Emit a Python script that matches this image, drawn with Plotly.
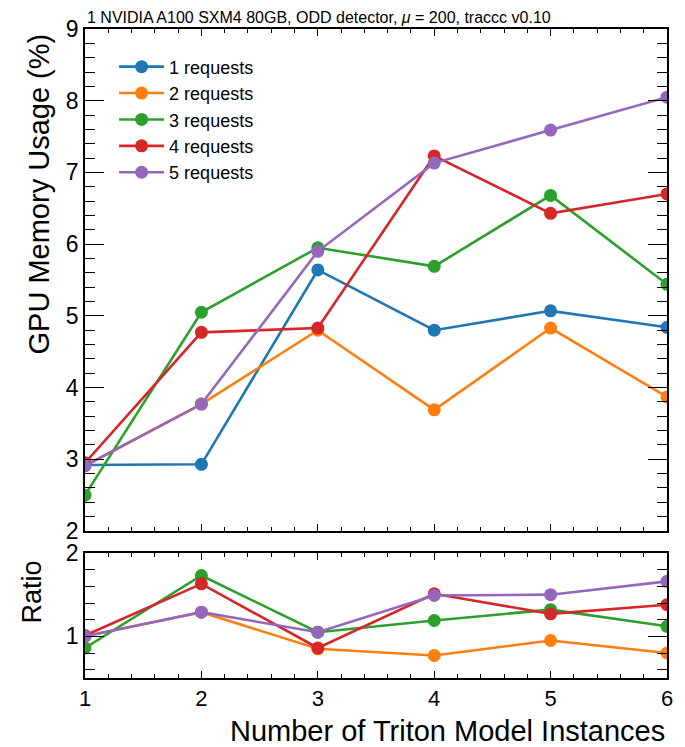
import plotly.graph_objects as go

instances = [1, 2, 3, 4, 5, 6]
labels = ["1 requests", "2 requests", "3 requests", "4 requests", "5 requests"]
colors = ["#1f77b4", "#ff7f0e", "#2ca02c", "#d62728", "#9467bd"]

mem_1req = [2.92, 2.93, 5.64, 4.80, 5.07, 4.84]
mem_2req = [2.91, 3.77, 4.80, 3.69, 4.83, 3.87]
mem_3req = [2.50, 5.05, 5.95, 5.69, 6.68, 5.44]
mem_4req = [2.95, 4.77, 4.83, 7.23, 6.43, 6.70]
mem_5req = [2.91, 3.77, 5.90, 7.13, 7.59, 8.05]

ratio_2req = [1.00, 1.29, 0.85, 0.77, 0.95, 0.80]
ratio_3req = [0.86, 1.73, 1.05, 1.19, 1.32, 1.12]
ratio_4req = [1.01, 1.63, 0.86, 1.51, 1.27, 1.38]
ratio_5req = [1.00, 1.29, 1.05, 1.49, 1.50, 1.66]

main_series = [mem_1req, mem_2req, mem_3req, mem_4req, mem_5req]
ratio_series = [None, ratio_2req, ratio_3req, ratio_4req, ratio_5req]

FONT = "Liberation Sans, Arial, sans-serif"

fig = go.Figure()
for lab, col, ys in zip(labels, colors, main_series):
    fig.add_trace(go.Scatter(
        x=instances, y=ys, mode="lines+markers", name=lab,
        line=dict(color=col, width=2.6),
        marker=dict(color=col, size=13),
        xaxis="x", yaxis="y", showlegend=True,
    ))
for lab, col, ys in zip(labels, colors, ratio_series):
    if ys is None:
        continue
    fig.add_trace(go.Scatter(
        x=instances, y=ys, mode="lines+markers", name=lab,
        line=dict(color=col, width=2.6),
        marker=dict(color=col, size=13),
        xaxis="x2", yaxis="y2", showlegend=False,
    ))

axis_common = dict(
    showline=True, linecolor="black", linewidth=1.6, mirror="allticks",
    ticks="inside", tickcolor="black", showgrid=False, zeroline=False,
)

fig.update_layout(
    width=685, height=747,
    margin=dict(l=85, r=16, t=29, b=69),
    paper_bgcolor="white", plot_bgcolor="white",
    font=dict(family=FONT, color="black"),
    xaxis=dict(
        **axis_common, domain=[0, 1], anchor="y", range=[1, 6],
        dtick=1, tick0=1, ticklen=7, tickwidth=1.2, showticklabels=False,
        minor=dict(dtick=0.2, ticklen=4, tickcolor="black", ticks="inside", tickwidth=1),
    ),
    yaxis=dict(
        **axis_common, domain=[0.2265, 1], anchor="x", range=[2, 9],
        dtick=1, tick0=2, ticklen=19, tickwidth=1.2,
        tickfont=dict(size=23, family=FONT),
        minor=dict(dtick=0.2, ticklen=10, tickcolor="black", ticks="inside", tickwidth=1),
    ),
    xaxis2=dict(
        **axis_common, domain=[0, 1], anchor="y2", range=[1, 6], matches="x",
        dtick=1, tick0=1, ticklen=7, tickwidth=1.2,
        tickfont=dict(size=22, family=FONT),
        minor=dict(dtick=0.2, ticklen=4, tickcolor="black", ticks="inside", tickwidth=1),
    ),
    yaxis2=dict(
        **axis_common, domain=[0, 0.1926], anchor="x2", range=[0.5, 2],
        tickvals=[1, 2], ticklen=19, tickwidth=1.2,
        tickfont=dict(size=23, family=FONT),
        minor=dict(tickvals=[0.6, 0.8, 1.2, 1.4, 1.6, 1.8], ticklen=10,
                   tickcolor="black", ticks="inside", tickwidth=1),
    ),
    legend=dict(
        x=0.05, y=0.97, xanchor="left", yanchor="top",
        bgcolor="rgba(0,0,0,0)", font=dict(size=18, family=FONT),
        tracegroupgap=0, itemwidth=45,
    ),
    annotations=[
        dict(text="1 NVIDIA A100 SXM4 80GB, ODD detector, <i>μ</i> = 200, traccc v0.10",
             xref="paper", yref="paper", x=0, y=1, xanchor="left", yanchor="bottom",
             xshift=0, yshift=1, showarrow=False, font=dict(size=16, family=FONT)),
        dict(text="GPU Memory Usage (%)", textangle=-90,
             xref="paper", yref="paper", x=0, y=1, xanchor="right", yanchor="top",
             xshift=-29, yshift=-2, showarrow=False, font=dict(size=29, family=FONT)),
        dict(text="Ratio", textangle=-90,
             xref="paper", yref="paper", x=0, y=0.1926, xanchor="right", yanchor="top",
             xshift=-36, yshift=-6, showarrow=False, font=dict(size=27, family=FONT)),
        dict(text="Number of Triton Model Instances",
             xref="paper", yref="paper", x=1, y=0, xanchor="right", yanchor="top",
             xshift=0, yshift=-35, showarrow=False, font=dict(size=29, family=FONT)),
    ],
)

fig.write_html("out.html")
